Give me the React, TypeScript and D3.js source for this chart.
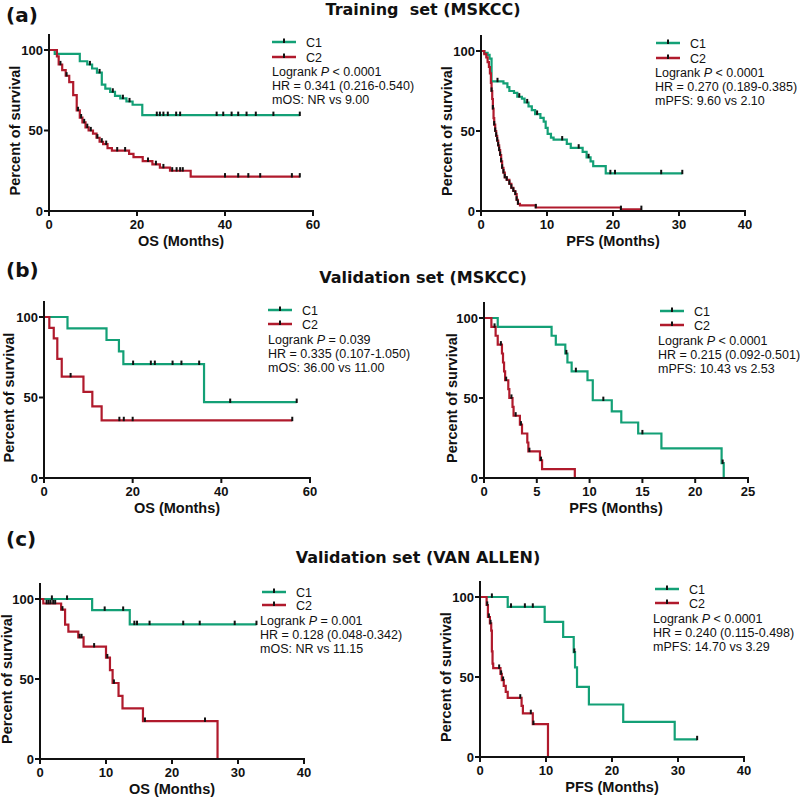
import React from 'react';
import * as d3 from 'd3';

type Step = [number, number];

// ---------- Panel (a) Training set (MSKCC) ----------
const aOsC1Steps: Step[] = [[1.3, 97.6], [7.0, 93.0], [8.7, 91.0], [9.8, 88.5], [10.9, 86.0], [12.0, 78.5], [12.8, 76.0], [13.9, 74.0], [15.0, 71.5], [16.2, 70.0], [17.6, 68.0], [19.0, 66.0], [21.2, 59.5]];
const aOsC1Censor: number[] = [9.3, 11.5, 14.5, 16.8, 18.3, 24.5, 25.2, 26.0, 27.0, 28.9, 29.8, 38.1, 39.6, 41.5, 43.0, 44.9, 47.0, 51.0, 57.0];
const aOsC2Steps: Step[] = [[1.8, 96], [2.2, 91], [3.0, 87.5], [3.8, 84], [4.6, 80], [5.5, 72], [6.3, 62.5], [7.0, 58], [7.6, 55], [8.3, 52], [9.0, 50], [10.0, 48], [10.8, 45.5], [11.5, 43], [12.3, 41.5], [13.3, 39], [14.3, 37.5], [18.2, 35.5], [19.2, 33.5], [21.3, 31], [23.5, 29], [25.2, 27], [27.5, 25], [32.2, 21.3]];
const aOsC2Censor: number[] = [2.6, 4.0, 6.6, 7.3, 8.0, 8.7, 9.5, 11.0, 12.0, 13.0, 15.5, 17.3, 22.5, 24.3, 26.0, 28.0, 29.0, 29.8, 30.4, 40.0, 43.0, 45.3, 48.0, 55.2, 57.0];

const aPfsC1Steps: Step[] = [[0.5, 98.8], [1.0, 97.6], [1.3, 95.2], [1.6, 81.0], [3.4, 79.8], [4.0, 77.4], [4.3, 75.0], [5.0, 73.8], [5.5, 71.4], [6.2, 70.2], [6.6, 67.8], [7.2, 65.4], [7.7, 63.0], [8.2, 60.6], [9.0, 58.2], [9.5, 55.8], [9.8, 52.0], [10.1, 48.2], [10.6, 45.8], [11.0, 44.6], [13.0, 42.0], [13.6, 39.5], [15.4, 37.0], [16.0, 33.5], [16.6, 31.0], [17.0, 28.0], [18.9, 23.5]];
const aPfsC1Censor: number[] = [2.5, 5.8, 7.0, 8.5, 12.3, 14.8, 16.3, 19.6, 20.3, 27.3, 30.5];
const aPfsC2Steps: Step[] = [[0.5, 98], [0.8, 96], [1.0, 93], [1.2, 90], [1.35, 86], [1.5, 80], [1.6, 75], [1.7, 70], [1.8, 64], [1.9, 58], [2.0, 54], [2.15, 50], [2.3, 47], [2.45, 44], [2.6, 41], [2.75, 38], [2.9, 35], [3.05, 31], [3.2, 27], [3.4, 24], [3.6, 21], [3.9, 19.5], [4.3, 17], [4.6, 14.5], [4.9, 12.5], [5.2, 10.5], [5.4, 7], [5.6, 4.5], [5.9, 3.5], [8.3, 2.2], [21.2, 1.1]];
const aPfsC2Censor: number[] = [1.6, 1.8, 2.0, 2.15, 2.3, 2.45, 2.6, 2.75, 2.9, 3.05, 3.2, 3.4, 3.6, 3.9, 4.3, 4.6, 4.9, 5.2, 5.4, 5.6, 8.3, 21.2, 24.3];

// ---------- Panel (b) Validation set (MSKCC) ----------
const bOsC1Steps: Step[] = [[5.3, 92.9], [14.1, 85.7], [16.9, 78.6], [17.9, 70.7], [36.1, 47.1]];
const bOsC1Censor: number[] = [20.1, 24.1, 25.0, 29.0, 31.0, 35.0, 42.0, 57.0];
const bOsC2Steps: Step[] = [[1.2, 93.3], [2.2, 86.7], [3.0, 74.0], [4.0, 63.0], [8.9, 53.5], [10.9, 44.5], [13.0, 35.8]];
const bOsC2Censor: number[] = [6.0, 17.0, 18.0, 20.0, 56.0];

const bPfsC1Steps: Step[] = [[1.3, 94.4], [6.4, 88.9], [6.8, 83.3], [7.7, 77.8], [7.9, 72.2], [8.3, 66.7], [9.8, 61.1], [10.3, 48.6], [12.1, 41.7], [13.0, 34.7], [14.6, 27.8], [16.8, 18.5], [22.5, 9.3], [22.7, 0]];
const bPfsC1Censor: number[] = [7.8, 8.7, 11.3, 15.0, 22.6];
const bPfsC2Steps: Step[] = [[0.7, 94.4], [1.1, 88.9], [1.3, 83.3], [1.7, 77.8], [1.8, 72.2], [1.9, 66.7], [2.0, 61.1], [2.3, 55.6], [2.4, 50.0], [2.7, 44.4], [2.8, 38.9], [3.4, 33.3], [3.6, 27.8], [4.1, 22.2], [4.2, 16.7], [5.3, 11.1], [5.5, 5.6], [8.6, 0]];
const bPfsC2Censor: number[] = [1.0, 1.6, 2.1, 2.6, 3.0, 3.5, 4.3, 5.4];

// ---------- Panel (c) Validation set (VAN ALLEN) ----------
const cOsC1Steps: Step[] = [[7.9, 93.1], [13.6, 84.2]];
const cOsC1Censor: number[] = [1.8, 4.1, 9.8, 12.6, 14.3, 14.7, 16.6, 21.7, 24.2, 29.5, 32.8];
const cOsC2Steps: Step[] = [[0.5, 97.2], [3.2, 93.3], [3.8, 84.0], [4.3, 79.6], [5.8, 76.0], [6.6, 70.2], [10.0, 63.4], [10.6, 55.6], [11.0, 47.5], [11.9, 39.4], [12.5, 31.6], [15.6, 23.7], [26.9, 0]];
const cOsC2Censor: number[] = [1.0, 1.3, 1.6, 2.0, 2.3, 3.4, 6.0, 6.3, 8.2, 10.2, 11.2, 15.9, 25.0];

const cPfsC1Steps: Step[] = [[4.2, 93.8], [9.8, 84.4], [12.6, 75.0], [14.2, 65.6], [14.4, 56.0], [14.7, 43.8], [16.5, 32.8], [21.7, 21.9], [29.5, 11.0]];
const cPfsC1Censor: number[] = [1.8, 4.7, 6.8, 8.0, 14.3, 32.9];
const cPfsC2Steps: Step[] = [[1.0, 95.0], [1.2, 87.5], [1.5, 83.5], [1.7, 79.0], [1.8, 66.0], [1.9, 58.3], [2.0, 55.6], [3.1, 51.9], [3.3, 48.1], [3.6, 44.4], [3.9, 40.7], [4.2, 37.0], [6.3, 32.0], [6.5, 27.3], [8.0, 20.5], [10.3, 0]];
const cPfsC2Censor: number[] = [1.1, 1.35, 1.6, 2.9, 3.2, 3.5, 6.1, 7.7, 8.1];

// ---------- Text ----------
const sectionLetters = ['(a)', '(b)', '(c)'];
const sectionTitles = ['Training  set (MSKCC)', 'Validation set (MSKCC)', 'Validation set (VAN ALLEN)'];
const seriesNames = ['C1', 'C2'];
const yTicks = [0, 50, 100];
const pValues = ['< 0.0001', '< 0.0001', '= 0.039', '< 0.0001', '= 0.001', '< 0.0001'];
const hrTexts = ['HR = 0.341 (0.216-0.540)', 'HR = 0.270 (0.189-0.385)', 'HR = 0.335 (0.107-1.050)', 'HR = 0.215 (0.092-0.501)', 'HR = 0.128 (0.048-0.342)', 'HR = 0.240 (0.115-0.498)'];
const medianTexts = ['mOS: NR vs 9.00', 'mPFS: 9.60 vs 2.10', 'mOS: 36.00 vs 11.00', 'mPFS: 10.43 vs 2.53', 'mOS: NR vs 11.15', 'mPFS: 14.70 vs 3.29'];
const xTitles = ['OS (Months)', 'PFS (Months)', 'OS (Months)', 'PFS (Months)', 'OS (Months)', 'PFS (Months)'];
const xTickSets = [[0, 20, 40, 60], [0, 10, 20, 30, 40], [0, 20, 40, 60], [0, 5, 10, 15, 20, 25], [0, 10, 20, 30, 40], [0, 10, 20, 30, 40]];

const curveData = [
  { c1: [aOsC1Steps, aOsC1Censor], c2: [aOsC2Steps, aOsC2Censor] },
  { c1: [aPfsC1Steps, aPfsC1Censor], c2: [aPfsC2Steps, aPfsC2Censor] },
  { c1: [bOsC1Steps, bOsC1Censor], c2: [bOsC2Steps, bOsC2Censor] },
  { c1: [bPfsC1Steps, bPfsC1Censor], c2: [bPfsC2Steps, bPfsC2Censor] },
  { c1: [cOsC1Steps, cOsC1Censor], c2: [cOsC2Steps, cOsC2Censor] },
  { c1: [cPfsC1Steps, cPfsC1Censor], c2: [cPfsC2Steps, cPfsC2Censor] },
];

// ---------- Layout ----------
const layouts = [
  { x0: 49, x1: 313, y0: 211, y100: 50, yTitleX: 15, legX: 272, legY: 42, legGap: 15, txtX: 272, txtY: 71 },
  { x0: 481, x1: 745, y0: 211, y100: 51, yTitleX: 447, legX: 656, legY: 43, legGap: 15, txtX: 655, txtY: 72 },
  { x0: 44, x1: 310, y0: 478, y100: 317, yTitleX: 9, legX: 268, legY: 310, legGap: 14, txtX: 268, txtY: 339 },
  { x0: 484, x1: 748, y0: 478, y100: 318, yTitleX: 452, legX: 660, legY: 311, legGap: 14, txtX: 658, txtY: 340 },
  { x0: 40, x1: 304, y0: 759, y100: 599, yTitleX: 7, legX: 262, legY: 592, legGap: 13, txtX: 260, txtY: 620 },
  { x0: 480, x1: 744, y0: 757, y100: 597, yTitleX: 446, legX: 655, legY: 589, legGap: 14, txtX: 653, txtY: 618 },
];
const sectionLayout = [
  { letterY: 22, titleX: 423, titleY: 15 },
  { letterY: 277, titleX: 423, titleY: 283 },
  { letterY: 546, titleX: 418, titleY: 563 },
];

const GREEN = '#13a076';
const RED = '#b01a2c';
const ARIAL = '"Liberation Sans", Arial, sans-serif';
const TITLE_FONT = '"DejaVu Sans", "Noto Sans", sans-serif';

function survivalAt(steps: Step[], t: number): number {
  let s = 100;
  for (const [st, sv] of steps) if (st <= t + 1e-9) s = sv;
  return s;
}

function Curve({ steps, censors, x, y, color }: { steps: Step[]; censors: number[]; x: d3.ScaleLinear<number, number>; y: d3.ScaleLinear<number, number>; color: string }) {
  const lastStep = steps[steps.length - 1];
  const end = Math.max(lastStep[0], d3.max(censors) ?? 0);
  const pts: Step[] = [[0, 100], ...steps, [end, lastStep[1]]];
  const line = d3.line<Step>().x(d => x(d[0])).y(d => y(d[1])).curve(d3.curveStepAfter);
  return (
    <g>
      <path d={line(pts) ?? ''} fill="none" stroke={color} strokeWidth={2.2} />
      {censors.map((t, i) => {
        const cx = x(t);
        const cy = y(survivalAt(steps, t));
        return <rect key={i} x={cx - 1} y={cy - 3.6} width={2} height={4.4} fill="#111" />;
      })}
    </g>
  );
}

function Panel({ idx }: { idx: number }) {
  const L = layouts[idx];
  const ticks = xTickSets[idx];
  const xMax = ticks[ticks.length - 1];
  const x = d3.scaleLinear().domain([0, xMax]).range([L.x0, L.x1]);
  const y = d3.scaleLinear().domain([0, 100]).range([L.y0, L.y100]);
  const yTop = y(110);
  const d = curveData[idx];
  const colors = [GREEN, RED];
  return (
    <g>
      <Curve steps={d.c1[0] as Step[]} censors={d.c1[1] as number[]} x={x} y={y} color={GREEN} />
      <Curve steps={d.c2[0] as Step[]} censors={d.c2[1] as number[]} x={x} y={y} color={RED} />
      <line x1={L.x0} x2={L.x0} y1={yTop} y2={L.y0 + 1} stroke="#111" strokeWidth={2} />
      <line x1={L.x0 - 1} x2={L.x1 + 1} y1={L.y0} y2={L.y0} stroke="#111" strokeWidth={2} />
      {yTicks.map(v => (
        <g key={'y' + v}>
          <line x1={L.x0 - 5} x2={L.x0} y1={y(v)} y2={y(v)} stroke="#111" strokeWidth={2} />
          <text x={L.x0 - 6} y={y(v)} dy="0.36em" textAnchor="end" fontFamily={ARIAL} fontWeight={700} fontSize={13} fill="#111">{v}</text>
        </g>
      ))}
      {ticks.map(v => (
        <g key={'x' + v}>
          <line x1={x(v)} x2={x(v)} y1={L.y0} y2={L.y0 + 5} stroke="#111" strokeWidth={2} />
          <text x={x(v)} y={L.y0 + 18} textAnchor="middle" fontFamily={ARIAL} fontWeight={700} fontSize={13} fill="#111">{v}</text>
        </g>
      ))}
      <text x={(L.x0 + L.x1) / 2} y={L.y0 + 35} textAnchor="middle" fontFamily={ARIAL} fontWeight={700} fontSize={14.5} fill="#111">{xTitles[idx]}</text>
      <text transform={`translate(${L.yTitleX},${(L.y0 + L.y100) / 2}) rotate(-90)`} dy="0.36em" textAnchor="middle" fontFamily={ARIAL} fontWeight={700} fontSize={14.5} fill="#111">Percent of survival</text>
      {seriesNames.map((n, i) => (
        <g key={n} transform={`translate(${L.legX},${L.legY + i * L.legGap})`}>
          <line x1={0} x2={24} y1={0} y2={0} stroke={colors[i]} strokeWidth={2.5} />
          <rect x={11} y={-3.5} width={2} height={4.5} fill="#111" />
          <text x={34} y={0} dy="0.36em" fontFamily={ARIAL} fontSize={12.5} fill="#111">{n}</text>
        </g>
      ))}
      <text x={L.txtX} y={L.txtY} dy="0.36em" fontFamily={ARIAL} fontSize={12.5} fill="#111">Logrank <tspan fontStyle="italic">P</tspan> {pValues[idx]}</text>
      <text x={L.txtX} y={L.txtY + 14} dy="0.36em" fontFamily={ARIAL} fontSize={12.5} fill="#111">{hrTexts[idx]}</text>
      <text x={L.txtX} y={L.txtY + 28} dy="0.36em" fontFamily={ARIAL} fontSize={12.5} fill="#111">{medianTexts[idx]}</text>
    </g>
  );
}

export default function App() {
  return (
    <svg width={800} height={798} viewBox="0 0 800 798" style={{ position: 'absolute', left: 0, top: 0, background: '#fff' }}>
      <rect x={0} y={0} width={800} height={798} fill="#fff" />
      {sectionLetters.map((s, i) => (
        <g key={s}>
          <text x={6} y={sectionLayout[i].letterY} fontFamily={TITLE_FONT} fontWeight={700} fontSize={20} fill="#111">{s}</text>
          <text x={sectionLayout[i].titleX} y={sectionLayout[i].titleY} textAnchor="middle" fontFamily={TITLE_FONT} fontWeight={700} fontSize={16} fill="#111" style={{ whiteSpace: 'pre' }}>{sectionTitles[i]}</text>
        </g>
      ))}
      {layouts.map((_, i) => <Panel key={i} idx={i} />)}
    </svg>
  );
}
